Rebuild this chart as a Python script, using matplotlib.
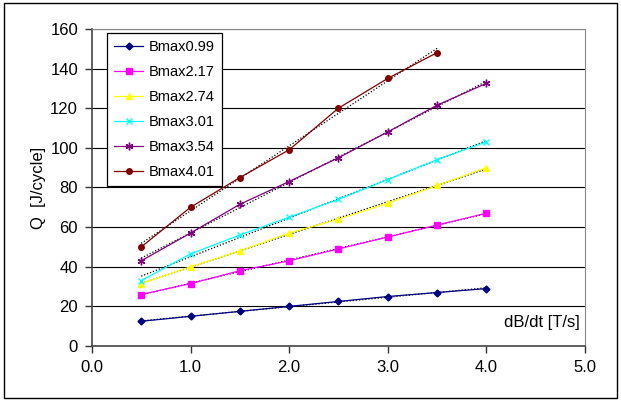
import numpy as np
import matplotlib
matplotlib.use("Agg")
import matplotlib.pyplot as plt
from matplotlib.patches import Rectangle

plt.rcParams['font.family'] = ['Liberation Sans Narrow', 'Liberation Sans', 'DejaVu Sans']

# data
dbdt = [0.5, 1.0, 1.5, 2.0, 2.5, 3.0, 3.5, 4.0]
dbdt_401 = [0.5, 1.0, 1.5, 2.0, 2.5, 3.0, 3.5]

q_099 = [12.5, 15, 17.5, 20, 22.5, 25, 27, 29]
q_217 = [26, 31.5, 38, 43, 49, 55, 61, 67]
q_274 = [31.5, 40, 48, 57, 64, 72, 81, 90]
q_301 = [33, 46.5, 56, 65, 74, 84, 94, 103]
q_354 = [43, 57, 71.5, 83, 95, 108, 121.5, 132.5]
q_401 = [50, 70, 85, 99, 120, 135, 148]

series = [
    ("Bmax0.99", dbdt, q_099, "#000080", "D", 3.5),
    ("Bmax2.17", dbdt, q_217, "#FF00FF", "s", 4),
    ("Bmax2.74", dbdt, q_274, "#FFFF00", "^", 4.5),
    ("Bmax3.01", dbdt, q_301, "#00FFFF", "x", 4.5),
    ("Bmax3.54", dbdt, q_354, "#800080", (6, 2, 0), 5.5),
    ("Bmax4.01", dbdt_401, q_401, "#800000", "o", 4),
]

fig = plt.figure(figsize=(6.21, 4.01), dpi=100)
ax = fig.add_axes([0.148, 0.137, 0.794, 0.791])

for y in range(20, 161, 20):
    ax.axhline(y, color="black", lw=0.8, zorder=1)

for label, x, q, color, marker, ms in series:
    ax.plot(x, q, color=color, marker=marker, ms=ms, lw=0.9,
            mec=color, mfc=color, label=label, zorder=3)
    # linear trend line
    k, b = np.polyfit(x, q, 1)
    xs = np.array([x[0], x[-1]])
    ax.plot(xs, k * xs + b, color="black", ls=(0, (1, 1.5)), lw=0.9, zorder=2)

ax.set_xlim(0, 5)
ax.set_ylim(0, 160)
ax.set_xticks(np.arange(0, 5.1, 1.0))
ax.set_xticklabels([f"{v:.1f}" for v in np.arange(0, 5.1, 1.0)])
ax.set_yticks(range(0, 161, 20))
ax.tick_params(labelsize=12, length=5, width=1, direction="out", colors="#333333",
               labelcolor="black", pad=5)

for side in ["top", "right"]:
    ax.spines[side].set_color("#888888")
for side in ["left", "bottom"]:
    ax.spines[side].set_color("#444444")
    ax.spines[side].set_linewidth(1.2)

ax.set_ylabel("Q  [J/cycle]", fontsize=12, labelpad=3)
ax.text(4.95, 12, "dB/dt [T/s]", fontsize=12, ha="right", va="center")

leg = ax.legend(loc="upper left", bbox_to_anchor=(0.030, 0.987), fontsize=10.5,
                frameon=True, fancybox=False, edgecolor="black", framealpha=1,
                handlelength=2.0, handletextpad=0.35, labelspacing=0.75,
                borderpad=0.5, borderaxespad=0)
leg.get_frame().set_linewidth(0.9)

fig.patches.append(Rectangle((0.006, 0.008), 0.988, 0.985, transform=fig.transFigure,
                             fill=False, edgecolor="black", lw=1.0))

fig.savefig("out.png", dpi=100)
